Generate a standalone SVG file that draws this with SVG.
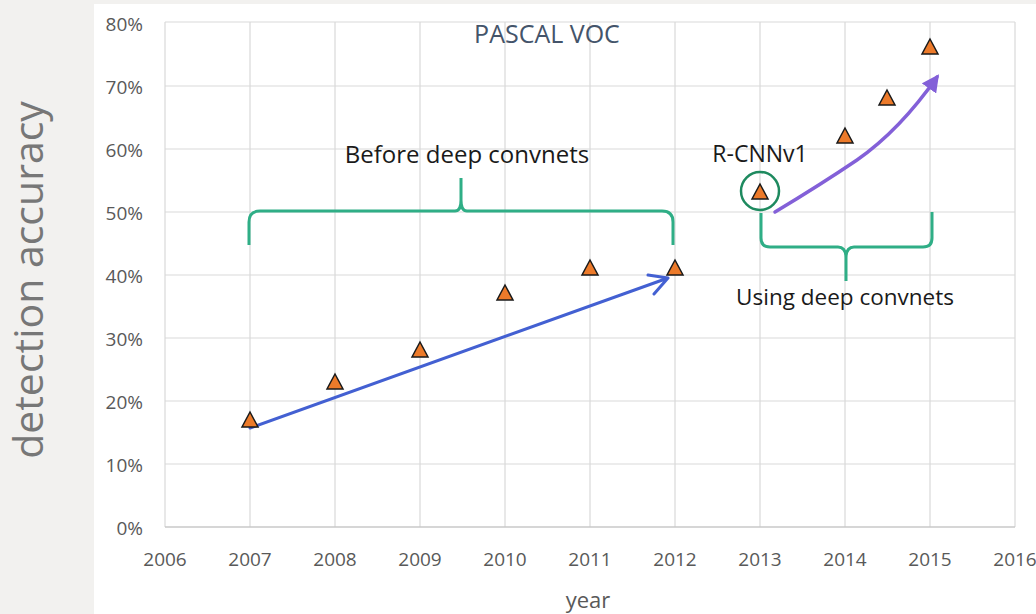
<svg xmlns="http://www.w3.org/2000/svg" width="1036" height="614" viewBox="0 0 1036 614">
<style>
.grid{stroke:#d9d9d9;stroke-width:1.2;fill:none}
.tick{font-family:"Open Sans","Liberation Sans",sans-serif;font-size:19px;fill:#595959}
.lbl{font-family:"Open Sans","Liberation Sans",sans-serif;fill:#1a1a1a}
.brace{fill:none;stroke:#2fae86;stroke-width:3;stroke-linejoin:round;stroke-linecap:butt}
.tri{fill:#ec7a2a;stroke:#1a1a1a;stroke-width:1.5;stroke-linejoin:miter}
</style>
<defs>
<path id="t" d="M0,-9 L8,6 L-8,6 Z"/>
<marker id="pa" viewBox="0 0 10 10" refX="8" refY="5" markerWidth="5" markerHeight="5" orient="auto" markerUnits="strokeWidth">
<path d="M0,0 L10,5 L0,10 Z" fill="#8360d8"/>
</marker>
</defs>
<rect width="1036" height="614" fill="#f2f1ef"/>
<rect x="94" y="4" width="942" height="610" fill="#ffffff"/>
<g id="grid">
<path class="grid" d="M165,22H1015M165,86H1015M165,149H1015M165,212H1015M165,275H1015M165,338H1015M165,401H1015M165,464H1015"/>
<path class="grid" d="M165,22V527M250,22V527M335,22V527M420,22V527M505,22V527M590,22V527M675,22V527M760,22V527M845,22V527M930,22V527M1015,22V527"/>
<path d="M165,527H1015" stroke="#c8c8c8" stroke-width="1.5"/>
</g>
<g id="yaxis" class="tick" text-anchor="end">
<text x="143" y="31">80%</text>
<text x="143" y="94">70%</text>
<text x="143" y="157">60%</text>
<text x="143" y="220">50%</text>
<text x="143" y="283">40%</text>
<text x="143" y="346">30%</text>
<text x="143" y="409">20%</text>
<text x="143" y="472">10%</text>
<text x="143" y="535">0%</text>
</g>
<g id="xaxis" class="tick" text-anchor="middle">
<text x="165" y="566">2006</text>
<text x="250" y="566">2007</text>
<text x="335" y="566">2008</text>
<text x="420" y="566">2009</text>
<text x="505" y="566">2010</text>
<text x="590" y="566">2011</text>
<text x="675" y="566">2012</text>
<text x="760" y="566">2013</text>
<text x="845" y="566">2014</text>
<text x="930" y="566">2015</text>
<text x="1015" y="566">2016</text>
</g>
<text x="588" y="608" text-anchor="middle" style="font-family:'Open Sans','Liberation Sans',sans-serif;font-size:22px;fill:#595959">year</text>
<text transform="translate(43,280) rotate(-90)" text-anchor="middle" style="font-family:'Open Sans','Liberation Sans',sans-serif;font-weight:400;font-size:41px;fill:#777777">detection accuracy</text>
<text x="547" y="43" text-anchor="middle" style="font-family:'Open Sans','Liberation Sans',sans-serif;font-size:25px;fill:#44546a">PASCAL VOC</text>
<g id="connectors">
<path d="M250,428 L668,278 M648,275 L668,278 L654,294" fill="none" stroke="#4360d2" stroke-width="3" stroke-linecap="round" stroke-linejoin="round"/>
<path d="M775,212 Q820,185 857,160 Q900,130 937,77" fill="none" stroke="#8360d8" stroke-width="3.5" stroke-linecap="round" marker-end="url(#pa)"/>
<path class="brace" d="M249,245 V222 Q249,211 260,211 H455 Q461,211 461,200 V178 M461,200 Q461,211 467,211 H662 Q673,211 673,222 V245"/>
<path class="brace" d="M761,213 V238 Q761,247 770,247 H838 Q846,247 846,258 V281 M846,258 Q846,247 854,247 H923 Q932,247 932,238 V212"/>
<circle cx="760" cy="191" r="19" fill="none" stroke="#1e8a5f" stroke-width="2.5"/>
</g>
<g id="points">
<use href="#t" x="250" y="421" class="tri"/>
<use href="#t" x="335" y="383" class="tri"/>
<use href="#t" x="420" y="351" class="tri"/>
<use href="#t" x="505" y="294" class="tri"/>
<use href="#t" x="590" y="269" class="tri"/>
<use href="#t" x="675" y="269" class="tri"/>
<use href="#t" x="760" y="193" class="tri"/>
<use href="#t" x="845" y="137" class="tri"/>
<use href="#t" x="887" y="99" class="tri"/>
<use href="#t" x="930" y="48" class="tri"/>
</g>
<g id="labels">
<text class="lbl" x="467" y="163" text-anchor="middle" font-size="24">Before deep convnets</text>
<text class="lbl" x="760" y="162" text-anchor="middle" font-size="23">R-CNNv1</text>
<text class="lbl" x="845" y="305" text-anchor="middle" font-size="22.5">Using deep convnets</text>
</g>
</svg>
